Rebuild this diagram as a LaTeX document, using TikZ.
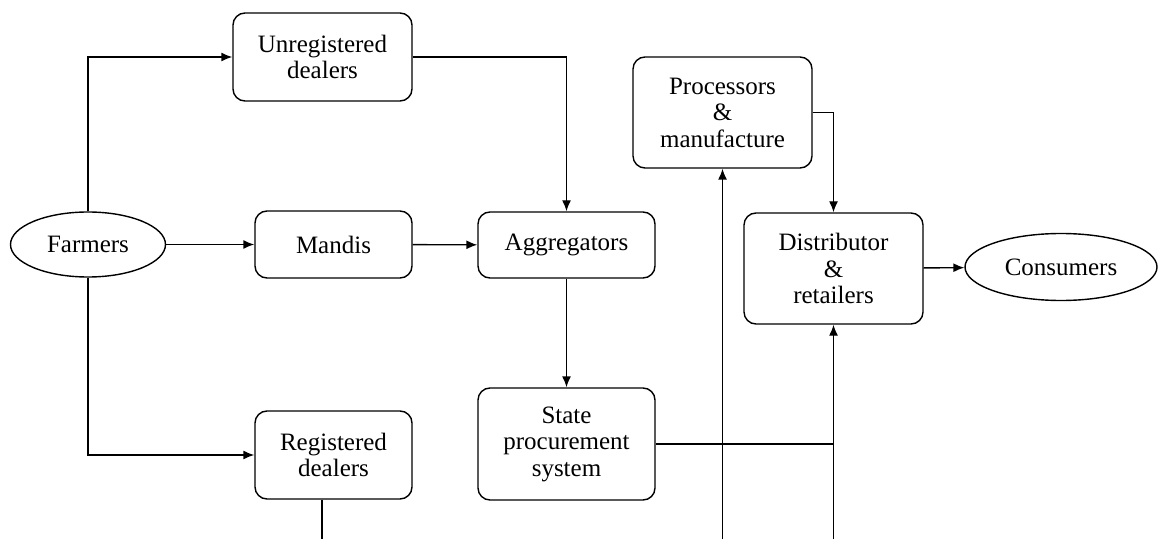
\documentclass[tikz,border=0pt]{standalone}
\usepackage{fontspec}
\setmainfont{Liberation Serif}
\usetikzlibrary{arrows.meta}
\usetikzlibrary{shapes.geometric}

\tikzset{
 box/.style={draw, rounded corners=6pt, align=center, inner sep=2pt},
 oval/.style={draw, ellipse, inner sep=0pt},
 flow/.style={->, >={Latex[length=5.5pt,width=4.5pt]}},
}

\begin{document}
\begin{tikzpicture} [x=.5pt, y=-.5pt, line width=.7pt, font=\fontsize{12.5}{13.25}\selectfont]
\useasboundingbox (0,0) rectangle (1159,539);
% ends of the lines that run off the bottom edge
\coordinate (bReg) at (322,539);
\coordinate (bProc) at (722.5,539);
\coordinate (bDistr) at (833.5,539);

\node[oval, minimum width=77.5pt, minimum height=32.5pt] (farmers) at (88,244.5) {Farmers};
\node[box, minimum width=89.5pt, minimum height=44pt] (unreg) at (322.5,57) {Unregistered\\dealers};
\node[box, minimum width=78.5pt, minimum height=33.5pt] (mandis) at (333.5,244.5) {Mandis};
\node[box, minimum width=78.5pt, minimum height=44pt] (reg) at (333.5,455) {Registered\\dealers};
\node[box, minimum width=88.5pt, minimum height=33pt] (aggr) at (566.5,245) {Aggregators};
\node[box, minimum width=88.5pt, minimum height=56pt] (state) at (566.5,444) {State\\procurement\\system};
\node[box, minimum width=89.5pt, minimum height=55.5pt] (proc) at (722.5,112.5) {Processors\\\&\\manufacture};
\node[box, minimum width=89.5pt, minimum height=55.5pt] (distr) at (833.5,268.5) {Distributor\\\&\\retailers};
\node[oval, minimum width=96pt, minimum height=33.5pt] (cons) at (1061,267) {Consumers};

\draw[flow] (farmers.north) |- (unreg.west);
\draw[flow] (farmers) -- (mandis);
\draw[flow] (farmers.south) |- (reg.west);
\draw[flow] (mandis) -- (aggr);
\draw[flow] (unreg.east) -| (aggr.north);
\draw[flow] (aggr) -- (state);
\draw (reg.south -| bReg) -- (bReg);
\draw (state.east) -- (state.east -| bDistr);
\draw[flow] (bProc) -- (proc.south);
\draw[flow] (bDistr) -- (distr.south);
\draw[flow] (proc.east) -| (distr.north);
\draw[flow] (distr) -- (cons);
\end{tikzpicture}
\end{document}
